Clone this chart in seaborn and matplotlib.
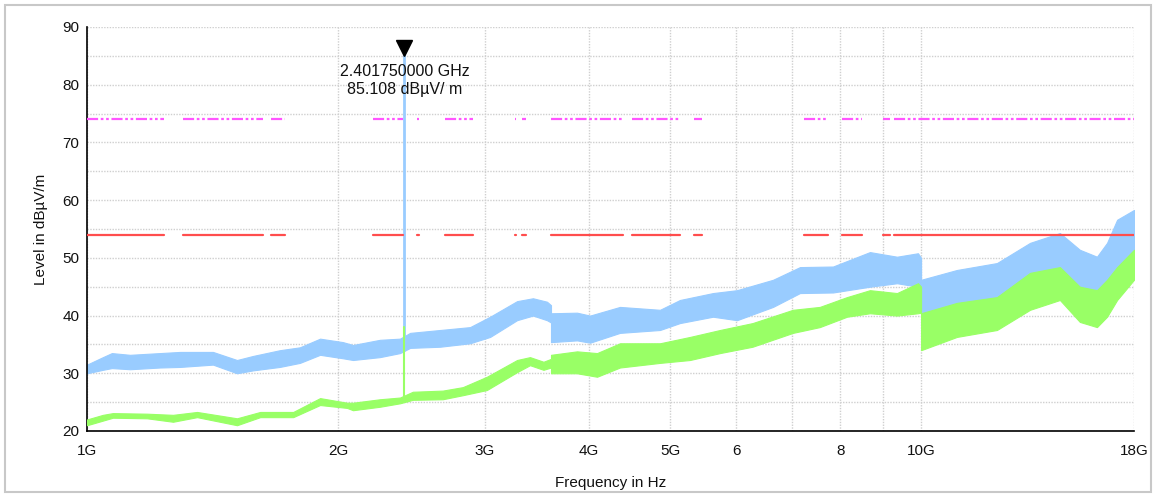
import numpy as np
import pandas as pd
import matplotlib
matplotlib.use("Agg")
import matplotlib.pyplot as plt
from matplotlib.patches import Rectangle
import seaborn as sns

# ---------------- data (frequencies in GHz, levels in dBuV/m) ----------------
peak_freq = [1.000, 1.045, 1.071, 1.126, 1.223, 1.293, 1.416, 1.513, 1.581, 1.703,
             1.800, 1.903, 2.027, 2.084, 2.245, 2.373, 2.440, 2.650, 2.879, 3.043,
             3.278, 3.425, 3.560, 3.600, 3.600, 3.868, 4.010, 4.355, 4.864, 5.139,
             5.630, 6.016, 6.645, 7.158, 7.842, 8.683, 9.357, 9.915, 10.00, 10.00,
             11.04, 12.33, 13.51, 14.67, 15.50, 16.25, 16.71, 17.18, 18.00]
peak_lo = [30.0, 30.6, 30.9, 30.7, 31.0, 31.1, 31.5, 30.0, 30.5, 31.1,
           31.8, 33.2, 32.6, 32.3, 32.8, 33.5, 34.4, 34.6, 35.2, 36.3,
           39.2, 40.0, 39.2, 38.8, 35.4, 35.7, 35.3, 37.0, 37.5, 38.7,
           39.8, 39.2, 41.5, 43.9, 44.0, 45.0, 45.6, 45.0, 45.0, 39.8,
           41.5, 43.2, 45.6, 47.4, 44.4, 42.7, 45.0, 48.4, 50.2]
peak_hi = [31.5, 32.8, 33.5, 33.2, 33.5, 33.7, 33.7, 32.3, 33.0, 34.0,
           34.5, 36.0, 35.4, 34.9, 35.8, 36.0, 37.0, 37.5, 38.0, 39.8,
           42.5, 43.0, 42.4, 41.8, 40.4, 40.5, 40.0, 41.5, 41.0, 42.7,
           43.9, 44.4, 46.2, 48.4, 48.5, 51.0, 50.2, 50.8, 50.0, 46.2,
           47.9, 49.1, 52.6, 54.3, 51.4, 50.2, 52.6, 56.6, 58.3]

avg_freq = [1.000, 1.045, 1.074, 1.180, 1.268, 1.355, 1.513, 1.613, 1.767, 1.903,
            2.050, 2.084, 2.245, 2.373, 2.458, 2.670, 2.822, 3.016, 3.278, 3.397,
            3.526, 3.600, 3.600, 3.868, 4.088, 4.355, 4.864, 5.284, 5.740, 6.280,
            7.020, 7.560, 8.150, 8.683, 9.357, 9.915, 10.00, 10.00, 11.04, 12.33,
            13.51, 14.67, 15.50, 16.25, 16.71, 17.18, 18.00]
avg_lo = [21.0, 21.8, 22.3, 22.2, 21.6, 22.4, 21.0, 22.4, 22.4, 24.5,
          24.0, 23.6, 24.2, 24.8, 25.4, 25.5, 26.2, 27.1, 30.2, 31.4,
          30.6, 31.0, 30.0, 30.0, 29.4, 31.0, 31.8, 32.3, 33.5, 34.6,
          37.0, 38.0, 39.8, 40.4, 40.0, 40.4, 40.5, 34.0, 36.3, 37.5,
          41.0, 42.7, 38.9, 38.0, 39.8, 42.7, 46.2]
avg_hi = [22.0, 22.8, 23.1, 23.0, 22.8, 23.3, 22.2, 23.3, 23.3, 25.7,
          24.9, 24.9, 25.5, 25.8, 26.8, 27.0, 27.6, 29.4, 32.3, 32.8,
          32.0, 32.5, 33.2, 33.8, 33.5, 35.2, 35.2, 36.3, 37.5, 38.7,
          41.0, 41.5, 43.2, 44.4, 43.9, 45.6, 45.0, 40.4, 42.2, 43.2,
          47.4, 48.4, 45.0, 44.4, 46.2, 48.4, 51.4]

marker_freq = 2.40175
marker_level = 85.108
avg_spike_level = 38.0

limit_peak = 74.0
limit_avg = 54.0
limit_seg_start = [1.000, 1.304, 1.662, 2.202, 2.486, 2.687, 3.261, 3.324, 3.601, 4.502, 5.343, 7.238, 8.037, 9.000, 9.280]
limit_seg_end   = [1.237, 1.626, 1.727, 2.392, 2.500, 2.903, 3.270, 3.360, 4.391, 5.139, 5.461, 7.733, 8.494, 9.180, 18.00]

xtick_vals = [1, 2, 3, 4, 5, 6, 7, 8, 9, 10, 18]
xtick_labels = ["1G", "2G", "3G", "4G", "5G", "6", "", "8", "", "10G", "18G"]
ytick_major = [20, 30, 40, 50, 60, 70, 80, 90]
ytick_minor = [25, 35, 45, 55, 65, 75, 85]

# ---------------- style ----------------
sns.set_theme(style="white")
plt.rcParams["font.family"] = ["Liberation Sans", "DejaVu Sans"]

c_peak = "#99CCFF"
c_avg = "#99FF66"
c_lim_avg = "#FF4D4D"
c_lim_peak = "#FF55FF"

fig = plt.figure(figsize=(11.56, 4.94), dpi=100)
ax = fig.add_axes([87 / 1156, 1 - 431 / 494, (1134 - 87) / 1156, (431 - 27) / 494])

# outer frame
fig.patches.append(Rectangle((5 / 1156, 2 / 494), 1146 / 1156, 487 / 494,
                             transform=fig.transFigure, fill=False,
                             edgecolor="#C8C8C8", linewidth=1.5))

peak_df = pd.DataFrame({"f": peak_freq, "lo": peak_lo, "hi": peak_hi})
avg_df = pd.DataFrame({"f": avg_freq, "lo": avg_lo, "hi": avg_hi})

# peak trace band
ax.fill_between(peak_df["f"], peak_df["lo"], peak_df["hi"], color=c_peak, linewidth=0.8,
                edgecolor=c_peak, zorder=2)
sns.lineplot(x=[marker_freq, marker_freq], y=[34.0, marker_level], ax=ax, color=c_peak,
             linewidth=2.0, estimator=None, sort=False, zorder=2)

# average trace band
ax.fill_between(avg_df["f"], avg_df["lo"], avg_df["hi"], color=c_avg, linewidth=0.8,
                edgecolor=c_avg, zorder=3)
sns.lineplot(x=[marker_freq, marker_freq], y=[25.5, avg_spike_level], ax=ax, color=c_avg,
             linewidth=1.5, estimator=None, sort=False, zorder=3)

# limit lines
for s, e in zip(limit_seg_start, limit_seg_end):
    sns.lineplot(x=[s, e], y=[limit_avg, limit_avg], ax=ax, color=c_lim_avg,
                 linewidth=1.6, estimator=None, sort=False, zorder=4)
    sns.lineplot(x=[s, e], y=[limit_peak, limit_peak], ax=ax, color=c_lim_peak,
                 linewidth=1.6, estimator=None, sort=False, zorder=4,
                 dashes=False).lines[-1].set_dashes([5, 1.2, 1.2, 1.2, 1.2, 1.2])

# marker
ax.plot([marker_freq], [86.4], marker="v", color="black",
        markersize=11, zorder=6, clip_on=False)
ax.text(marker_freq, 80.7, "2.401750000 GHz\n85.108 dBµV/ m", ha="center", va="center",
        fontsize=11.5, color="#111111", linespacing=1.2, zorder=6)

# axes
ax.set_xscale("log")
ax.set_xlim(1, 18)
ax.set_ylim(20, 90)
ax.set_xticks(xtick_vals)
ax.set_xticklabels(xtick_labels)
ax.xaxis.set_minor_locator(matplotlib.ticker.NullLocator())
ax.set_yticks(ytick_major)
ax.set_yticks(ytick_minor, minor=True)
ax.tick_params(axis="both", which="both", direction="inout", length=7, width=1,
               color="black", labelsize=11, labelcolor="#111111")
ax.tick_params(axis="x", pad=6)
ax.tick_params(axis="y", pad=2)

ax.grid(True, which="both", axis="both", color="#CFCFCF", linestyle=(0, (1, 1)), linewidth=1)
ax.set_axisbelow(True)
for side in ["top", "right"]:
    ax.spines[side].set_visible(False)
for side in ["left", "bottom"]:
    ax.spines[side].set_color("black")
    ax.spines[side].set_linewidth(1.2)

ax.set_xlabel("Frequency in Hz", fontsize=11, color="#111111", labelpad=13)
ax.set_ylabel("Level in dBµV/m", fontsize=11, color="#111111", labelpad=10)

fig.savefig("out.png", dpi=100)
